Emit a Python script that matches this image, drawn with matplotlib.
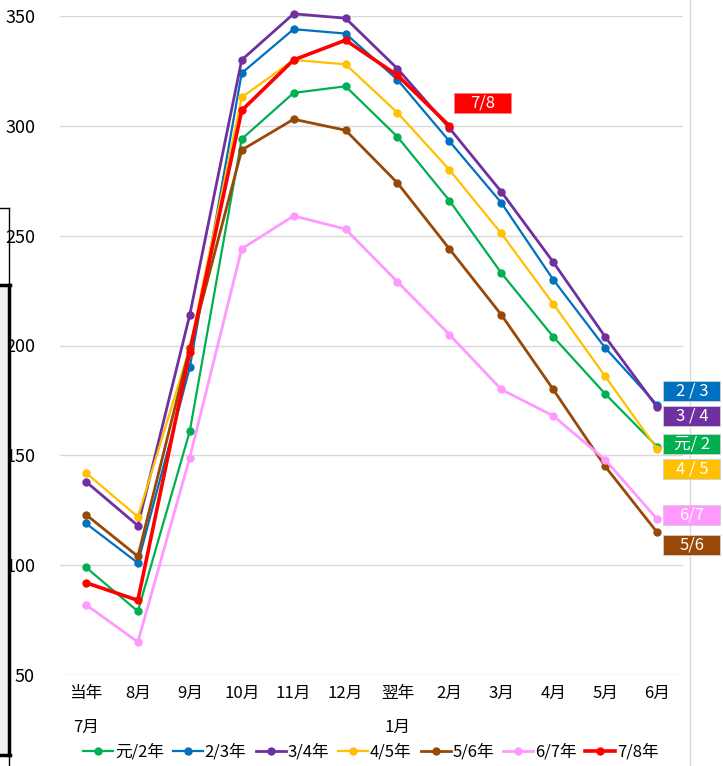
import matplotlib
matplotlib.use("Agg")
import matplotlib.pyplot as plt
from matplotlib.patches import Rectangle
from matplotlib.lines import Line2D

plt.rcParams['font.family'] = ['Noto Sans CJK JP', 'DejaVu Sans']

months = ["当年\n7月", "8月", "9月", "10月", "11月", "12月", "翌年\n1月",
          "2月", "3月", "4月", "5月", "6月"]

s_gen2 = [99, 79, 161, 294, 315, 318, 295, 266, 233, 204, 178, 154]
s_2_3 = [119, 101, 190, 324, 344, 342, 321, 293, 265, 230, 199, 173]
s_3_4 = [138, 118, 214, 330, 351, 349, 326, 299, 270, 238, 204, 172]
s_4_5 = [142, 122, 199, 313, 330, 328, 306, 280, 251, 219, 186, 153]
s_5_6 = [123, 104, 199, 289, 303, 298, 274, 244, 214, 180, 145, 115]
s_6_7 = [82, 65, 149, 244, 259, 253, 229, 205, 180, 168, 148, 121]
s_7_8 = [92, 84, 197, 307, 330, 339, 323, 300]

series_names = ["元/2年", "2/3年", "3/4年", "4/5年", "5/6年", "6/7年", "7/8年"]
series_values = [s_gen2, s_2_3, s_3_4, s_4_5, s_5_6, s_6_7, s_7_8]
colors = ["#00B050", "#0070C0", "#7030A0", "#FFC000", "#984807", "#FF99FF", "#FF0000"]
widths = [1.6, 1.6, 2.0, 1.6, 2.0, 2.0, 2.6]

# end labels (text, y-centre value)
end_labels = ["2 / 3", "3 / 4", "元/ 2", "4 / 5", "6/7", "5/6"]
end_label_vals = [179.5, 168.0, 155.0, 144.0, 123.0, 109.0]
end_label_cols = ["#0070C0", "#7030A0", "#00B050", "#FFC000", "#FF99FF", "#984807"]
cur_label = "7/8"
cur_label_val = 310.0

fig = plt.figure(figsize=(7.23, 7.66), dpi=100)
W, H = 723, 766
ax = fig.add_axes([60 / W, 1 - 675 / H, (683 - 60) / W, (675 - 16) / H])

x = list(range(len(months)))
for name, vals, c, lw in zip(series_names, series_values, colors, widths):
    ax.plot(x[:len(vals)], vals, color=c, lw=lw, marker='o', markersize=5,
            label=name, clip_on=False, solid_joinstyle='round')

ax.set_xlim(-0.5, len(months) - 0.5)
ax.set_ylim(50, 350)
ax.set_yticks([50, 100, 150, 200, 250, 300, 350])
ax.set_xticks(x)
ax.set_xticklabels(months, fontsize=12, linespacing=2.3, va='top')
ax.tick_params(axis='y', length=0, pad=18, labelsize=13)
ax.tick_params(axis='x', length=0, pad=7)
ax.grid(axis='y', color='#D9D9D9', lw=1)
ax.set_axisbelow(True)
for sp in ax.spines.values():
    sp.set_visible(False)

# box labels on the right
bw = 57 / 51.9
bh = 20 / 2.197
for t, v, c in zip(end_labels, end_label_vals, end_label_cols):
    ax.add_patch(Rectangle((11.12, v - bh / 2), bw, bh, facecolor=c,
                           edgecolor='#D0D0D0', lw=0.6, clip_on=False, zorder=5))
    ax.text(11.12 + bw / 2, v, t, color='white', fontsize=12, ha='center',
            va='center', clip_on=False, zorder=6)

ax.add_patch(Rectangle((7.09, cur_label_val - bh / 2 + 0.2), bw, bh, facecolor='#FF0000',
                       edgecolor='#FF8080', lw=0.6, clip_on=False, zorder=5))
ax.text(7.09 + bw / 2, cur_label_val + 0.2, cur_label, color='white', fontsize=12,
        ha='center', va='center', clip_on=False, zorder=6)

leg = fig.legend(loc='center', bbox_to_anchor=(371 / W, 1 - 752 / H), ncol=7,
                 frameon=False, fontsize=12, handlelength=1.8, handletextpad=0.1,
                 columnspacing=0.55, borderaxespad=0)

# light vertical border on the right
fig.add_artist(Line2D([690 / W, 690 / W], [0, 1], color='#D9D9D9', lw=1, zorder=-1))

# clipped frame fragments at the left edge
def px(xp, yp):
    return xp / W, 1 - yp / H

fig.add_artist(Rectangle(px(0, 755), 8 / W, (755 - 285) / H, facecolor='#EFEFEF',
                         edgecolor='none', hatch='....', lw=0))
fig.add_artist(Line2D([0, 9 / W], [1 - 208 / H] * 2, color='black', lw=1))
fig.add_artist(Line2D([9 / W] * 2, [1 - 208 / H, 1 - 285 / H], color='black', lw=1))
fig.add_artist(Line2D([0, 10 / W], [1 - 285 / H] * 2, color='black', lw=2.5))
fig.add_artist(Line2D([9 / W] * 2, [1 - 285 / H, 1 - 755 / H], color='black', lw=2.5))
fig.add_artist(Line2D([0, 10 / W], [1 - 755 / H] * 2, color='black', lw=2.5))
fig.add_artist(Line2D([9 / W] * 2, [1 - 755 / H, 0], color='black', lw=1))

fig.savefig("out.png", dpi=100)
